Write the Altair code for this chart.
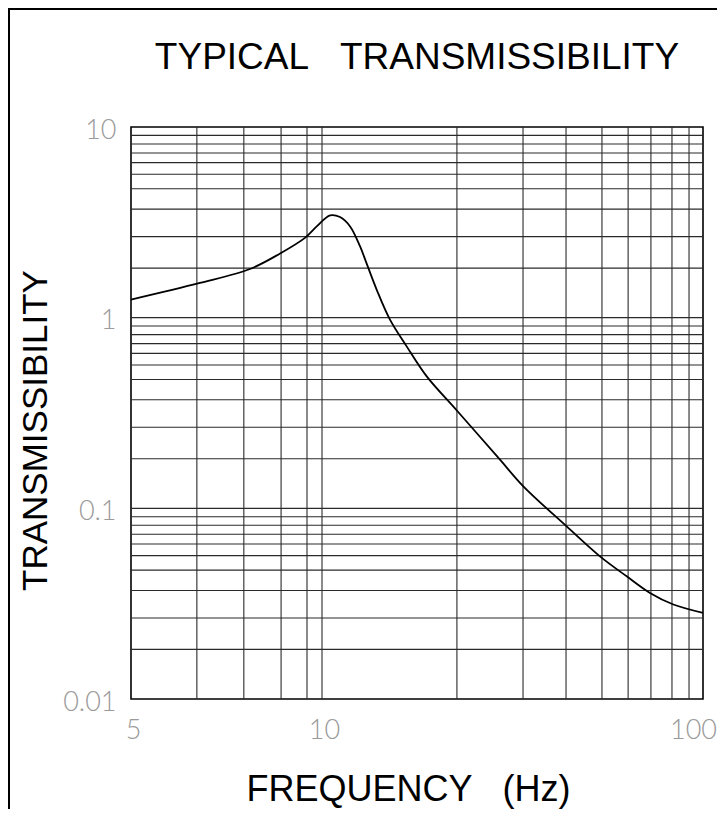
import altair as alt
import pandas as pd

# Curve (frequency in Hz, transmissibility)
freq = [5, 6.42, 7.70, 8.59, 9.40, 9.81, 10.50, 11.15, 11.85, 12.58, 13.10, 13.92,
        15.08, 16.68, 18.83, 22.62, 29.32, 33.76, 43.87, 53.65, 63.06, 72.6, 83.6, 100]
trans = [1.243, 1.52, 1.80, 2.17, 2.62, 3.01, 3.44, 3.37, 3.01, 2.37, 1.92, 1.40,
         0.976, 0.707, 0.492, 0.325, 0.180, 0.1304, 0.0804, 0.056, 0.044, 0.036, 0.0313, 0.0283]

# Grid lines
x_grid = [6.35, 7.53, 8.62, 9.47, 10, 22.6, 33.7, 43.7, 54.3, 63.6, 73.0, 82.9, 91.9]
y_sub = [1.82, 2.66, 3.71, 4.74, 5.65, 6.5, 7.31, 8.15, 9.04]
y_decades = [0.01, 0.1, 1]

x_ticks = [5, 10, 100]
y_ticks = [0.01, 0.1, 1, 10]

y_grid = [d * m for d in y_decades for m in y_sub] + [0.1, 1]

NB = "\u00a0"
title_text = "TYPICAL" + NB * 3 + "TRANSMISSIBILITY"
x_title = "FREQUENCY" + NB * 3 + "(Hz)"
y_title = "TRANSMISSIBILITY"

curve_df = pd.DataFrame({"freq": freq, "trans": trans})
xg_df = pd.DataFrame({"freq": x_grid})
yg_df = pd.DataFrame({"trans": y_grid})

xscale = alt.Scale(type="log", domain=[5, 10, 100], range=[0, 191, 572], nice=False)
yscale = alt.Scale(type="log", domain=[0.01, 10], nice=False)

label_font = "Lato"

x_axis = alt.Axis(
    values=x_ticks, format="~g", grid=False, ticks=False, domain=False,
    labelFont=label_font, labelFontWeight=300, labelFontSize=27,
    labelColor="#9a9a9a", labelPadding=18, labelFlush=False, labelAlign="center",
    labelOffset={"condition": {"test": "datum.value >= 100", "value": -10}, "value": 2},
    title=x_title, titleFont="Liberation Sans", titleFontSize=36,
    titleFontWeight="normal", titleColor="black",
    titleX=277, titleY=101, titleBaseline="alphabetic", titleAlign="center",
)
y_axis = alt.Axis(
    values=y_ticks, format="~g", grid=False, ticks=False, domain=False,
    labelFont=label_font, labelFontWeight=300, labelFontSize=27,
    labelColor="#9a9a9a", labelPadding=15, labelBaseline="middle", labelOffset=3,
    title=y_title, titleFont="Liberation Sans", titleFontSize=35,
    titleFontWeight="normal", titleColor="black",
    titleX=-96, titleY=303, titleBaseline="middle", titleAlign="center",
    titleAngle=270,
)

xgrid = alt.Chart(xg_df).mark_rule(color="#2a2a2a", strokeWidth=1.1).encode(
    x=alt.X("freq:Q", scale=xscale, axis=x_axis)
)
ygrid = alt.Chart(yg_df).mark_rule(color="#2a2a2a", strokeWidth=1.1).encode(
    y=alt.Y("trans:Q", scale=yscale, axis=y_axis)
)

line = alt.Chart(curve_df).mark_line(
    color="black", strokeWidth=1.8, interpolate="catmull-rom"
).encode(
    x=alt.X("freq:Q", scale=xscale, axis=x_axis),
    y=alt.Y("trans:Q", scale=yscale, axis=y_axis),
)

frame_left = alt.Chart(curve_df).mark_rule(color="black", strokeWidth=2).encode(
    x=alt.value(-122), y=alt.value(-119), y2=alt.value(700)
)
frame_top = alt.Chart(curve_df).mark_rule(color="black", strokeWidth=2).encode(
    x=alt.value(-123), x2=alt.value(600), y=alt.value(-118)
)

chart = alt.layer(xgrid, ygrid, line, frame_left, frame_top).properties(
    width=572,
    height=572,
    padding={"left": 123, "top": 119, "right": 14, "bottom": 110},
    autosize=alt.AutoSizeParams(type="none"),
    title=alt.Title(
        title_text, font="Liberation Sans", fontSize=37,
        fontWeight="normal", color="black", anchor="middle", frame="group",
        baseline="alphabetic", offset=-99,
    ),
).configure(
    background="white",
    view=alt.ViewConfig(stroke="black", strokeWidth=1.6),
)

chart.save("out.html", embed_options={"renderer": "svg", "actions": False})
